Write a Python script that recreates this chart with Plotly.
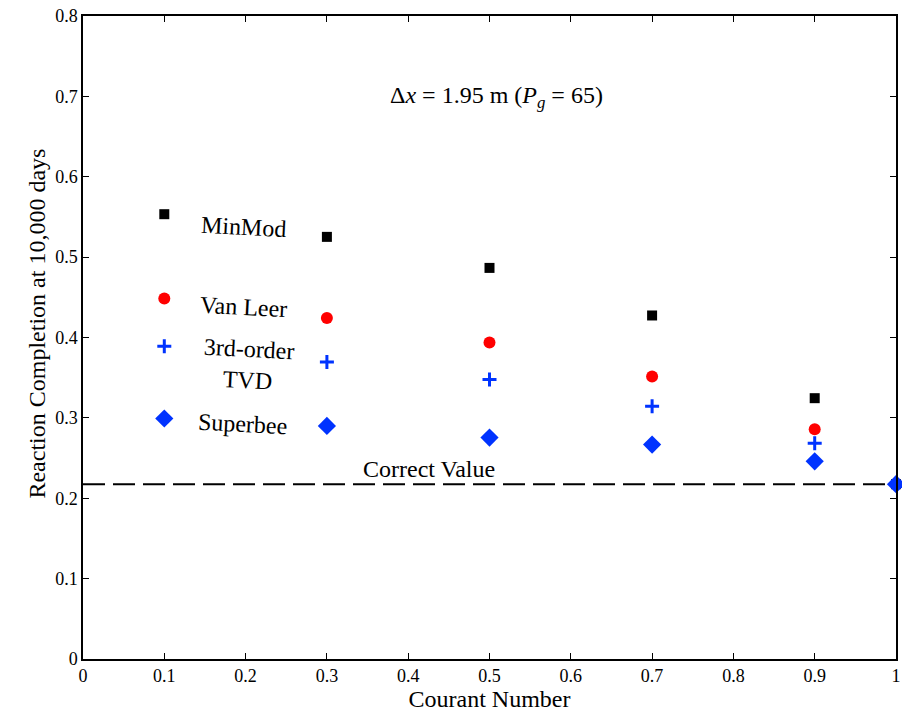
import plotly.graph_objects as go

courant = [0.1, 0.3, 0.5, 0.7, 0.9, 1.0]
minmod = [0.5534, 0.5252, 0.4866, 0.4274, 0.3245, 0.2175]
vanleer = [0.4485, 0.4244, 0.3938, 0.3515, 0.2859, 0.2175]
tvd3 = [0.3892, 0.3696, 0.3477, 0.3145, 0.2685, 0.2175]
superbee = [0.2992, 0.2900, 0.2755, 0.2668, 0.2460, 0.2175]
correct_value = 0.2175

x_ticks = [0, 0.1, 0.2, 0.3, 0.4, 0.5, 0.6, 0.7, 0.8, 0.9, 1]
x_ticklabels = ["0", "0.1", "0.2", "0.3", "0.4", "0.5", "0.6", "0.7", "0.8", "0.9", "1"]
y_ticks = [0, 0.1, 0.2, 0.3, 0.4, 0.5, 0.6, 0.7, 0.8]
y_ticklabels = ["0", "0.1", "0.2", "0.3", "0.4", "0.5", "0.6", "0.7", "0.8"]

BLUE = "#0033FF"
FONT = "Liberation Serif"

fig = go.Figure()
fig.add_trace(go.Scatter(x=[0, 1], y=[correct_value, correct_value], mode="lines",
                         line=dict(color="black", width=2, dash="22px,8px"),
                         showlegend=False, cliponaxis=False))
fig.add_trace(go.Scatter(x=courant, y=minmod, mode="markers",
                         marker=dict(symbol="square", size=10, color="black"),
                         showlegend=False, cliponaxis=False))
fig.add_trace(go.Scatter(x=courant, y=vanleer, mode="markers",
                         marker=dict(symbol="circle", size=12, color="#FF0000"),
                         showlegend=False, cliponaxis=False))
fig.add_trace(go.Scatter(x=courant, y=tvd3, mode="markers",
                         marker=dict(symbol="cross-thin", size=10, color=BLUE,
                                     line=dict(color=BLUE, width=3)),
                         showlegend=False, cliponaxis=False))
fig.add_trace(go.Scatter(x=courant, y=superbee, mode="markers",
                         marker=dict(symbol="diamond", size=14, color=BLUE),
                         showlegend=False, cliponaxis=False))

ann_font = dict(family=FONT, size=24, color="black")
anns = [
    dict(x=0.198, y=0.537, text="MinMod", textangle=3),
    dict(x=0.198, y=0.4377, text="Van Leer", textangle=3),
    dict(x=0.203, y=0.366, text="3rd-order<br>TVD", textangle=3),
    dict(x=0.196, y=0.292, text="Superbee", textangle=3),
    dict(x=0.425, y=0.237, text="Correct Value", textangle=0),
    dict(x=0.508, y=0.699, text="Δ<i>x</i> = 1.95 m (<i>P</i><sub><i>g</i></sub> = 65)", textangle=0),
]
for a in anns:
    fig.add_annotation(x=a["x"], y=a["y"], text=a["text"], textangle=a["textangle"],
                       showarrow=False, font=ann_font, xref="x", yref="y")

# y-axis title placed as text to match reference position
fig.add_annotation(x=-0.0748, y=0.522, xref="paper", yref="paper",
                   text="Reaction Completion at 10,000 days", textangle=-90,
                   showarrow=False, font=dict(family=FONT, size=24, color="black"))

axis_common = dict(showgrid=False, zeroline=False, showline=True, linecolor="black",
                   linewidth=1.5, ticks="inside", ticklen=6, tickwidth=1.2,
                   tickcolor="black", mirror="ticks", automargin=False,
                   tickfont=dict(family=FONT, size=18, color="black"))
fig.update_xaxes(range=[0, 1], tickvals=x_ticks, ticktext=x_ticklabels,
                 title=dict(text="Courant Number", font=dict(family=FONT, size=24, color="black"), standoff=2),
                 **axis_common)
fig.update_yaxes(range=[0, 0.8], tickvals=y_ticks, ticktext=y_ticklabels,
                 **axis_common)
fig.update_layout(width=902, height=719, margin=dict(l=83, r=6, t=16, b=60),
                  plot_bgcolor="white", paper_bgcolor="white")
fig.write_html("out.html")
